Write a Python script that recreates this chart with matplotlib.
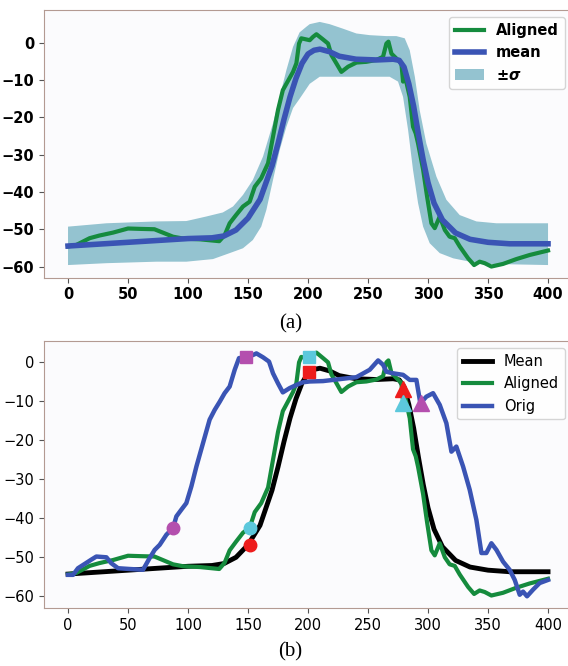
import numpy as np
import matplotlib
matplotlib.use("Agg")
import matplotlib.pyplot as plt

# mean curve (shared by both panels)
mean_x = [0, 50, 100, 120, 130, 140, 150, 160, 170, 175, 180, 185, 190, 195, 200, 205, 210, 218, 226,
          240, 257, 271, 276, 280, 284, 288, 292, 296, 300, 305, 312, 323, 335, 350, 368, 400]
mean_y = [-54.5, -53.5, -52.5, -52.3, -51.8, -50.2, -47, -42, -33, -27, -20.5, -14.5, -9.5, -5.5, -3, -2,
          -1.7, -2.4, -3.6, -4.4, -4.6, -4.4, -4.7, -6.5, -11, -17, -24.5, -31.5, -37.5, -43, -47.5, -51,
          -52.7, -53.5, -53.9, -53.9]

# aligned curve (shared by both panels)
al_x = [0, 7, 12.5, 18, 26, 37.5, 50, 60, 72, 79, 87.5, 96, 110, 126, 130.5, 134.7, 140, 145.8, 151.4,
        155.6, 161, 166.7, 170.8, 175, 179, 183, 187.5, 190.3, 192.5, 194.4, 198.6, 201.4, 204.2, 207,
        212.5, 216.7, 219.5, 223.6, 227.8, 233.4, 240.3, 248.6, 257, 262.5, 265.3, 267, 269.5, 273.6,
        277.8, 279.2, 280.6, 284.75, 287.5, 289.75, 291.7, 295.9, 299.2, 302.8, 305.6, 309.75, 314, 318,
        322.25, 326.4, 333.4, 338.4, 343, 347.25, 352.8, 362.5, 373.6, 384.75, 400]
al_y = [-54.6, -54.2, -53.3, -52.4, -51.7, -50.9, -49.8, -49.9, -50, -50.9, -52, -52.5, -52.7, -53.2,
        -51.6, -48.4, -46.2, -43.9, -42.6, -38.6, -36.3, -32.3, -25.2, -18, -12.7, -10.4, -7.8, -5.5,
        -0.2, 1.2, 0.9, 0.7, 1.6, 2.3, 0.9, -0.2, -3.3, -5.5, -7.8, -6.4, -5.3, -5.1, -4.6, -3.75, -0.2,
        0.3, -2.9, -4.2, -5.5, -10.4, -8.7, -14.5, -22.5, -24.3, -27, -34, -41.2, -48.4, -49.7, -46.6,
        -50.2, -52, -52.4, -54.6, -57.8, -59.6, -58.7, -59.1, -60, -59.3, -58, -56.9, -55.7]

# +/- sigma band edges
up_x = [0, 32, 73.6, 98.6, 115, 129, 137.5, 145.8, 154, 162.5, 170.8, 176.4, 182, 187.5, 193, 198.6,
        201.4, 209.75, 218, 229, 240.3, 251.4, 265.3, 273.6, 280.6, 284.75, 289, 293, 298.6, 307, 315.3,
        326.4, 340.3, 357, 400]
up_y = [-49.3, -48.4, -47.9, -47.8, -46.6, -45.5, -43.9, -40.8, -36.8, -30.5, -21.6, -14.5, -7.3, -1.1,
        2.8, 4.3, 5, 5.6, 5, 3.8, 2.5, 2.05, 1.8, 1.8, 1.2, -2, -9.1, -18, -27, -35.9, -42.1, -46.2,
        -47.9, -48.4, -48.4]
lo_x = [0, 32, 73.6, 98.6, 120.8, 134.7, 145.8, 154, 161, 165.3, 170.8, 176.4, 182, 187.5, 193, 201.4,
        209.75, 240.3, 268, 275, 279.2, 283.4, 287.5, 291.7, 295.9, 301.4, 309.75, 321, 334.75, 351.4, 400]
lo_y = [-59.6, -59.1, -58.7, -58.7, -58, -56.4, -55.1, -52.9, -49.3, -44.8, -36.8, -28.75, -22.5, -17.5,
        -15, -11, -9.1, -9.1, -9.1, -10.4, -14.5, -23.4, -34.1, -43, -49.3, -53.75, -56.4, -57.8, -58.7,
        -59.3, -59.6]

# original curve (bottom panel)
orig_x = [0, 4.2, 8.3, 13.9, 19.4, 23.6, 32, 36, 41.7, 51.4, 62.5, 68, 72.2, 76.4, 82, 87.5, 90.3, 94.4,
          98.6, 102.8, 107, 112.5, 118, 122.2, 126.4, 130.5, 134.7, 138.9, 142.5, 148.6, 154.2, 157, 162.5,
          167.5, 170.8, 175, 179, 184.7, 190.3, 195.8, 201.4, 212.5, 226.4, 240.3, 251.4, 258.4, 262.5,
          265.3, 270.8, 279.2, 284.75, 290.3, 293.6, 298.6, 304.2, 309.75, 315.3, 319.5, 323.6, 329.2,
          334.75, 340.3, 344.5, 348.6, 352.8, 357, 362.5, 368, 372.25, 376.4, 379.2, 382.5, 387.5, 393, 400]
orig_y = [-54.7, -54.7, -53, -51.9, -50.8, -50, -50.2, -51.7, -53, -53.2, -53.4, -50.4, -48.3, -47, -44.4,
          -42.7, -39.7, -38, -36.3, -32, -26.9, -20.9, -14.9, -12.4, -10.3, -8.1, -6.4, -2.1, 0.9, 1.1, 1.7,
          2.1, 1.1, 0, -3, -5.6, -7.9, -6.8, -6, -5.3, -5.1, -5, -4.5, -4, -2.1, 0.3, -0.8, -2.6, -3, -3.4,
          -4.7, -4.7, -10.7, -9, -8.1, -11.1, -15.8, -23.1, -21.8, -26.9, -32.9, -40.6, -49.1, -49.1,
          -46.6, -48.3, -51.3, -53.4, -56, -59.8, -59, -60.2, -58.5, -56.8, -56]

# key points
mk_x = [87.5, 152, 152, 148.5, 200.5, 200.5, 279, 279, 294]
mk_y = [-42.7, -42.7, -47, 1.3, 1.3, -2.7, -7.1, -10.7, -10.7]
mk_c = ['#b44fae', '#5cc8dc', '#ee1c1c', '#b44fae', '#5cc8dc', '#ee1c1c', '#ee1c1c', '#5cc8dc', '#b44fae']
mk_s = ['o', 'o', 'o', 's', 's', 's', '^', '^', '^']

green = '#158b3d'
blue = '#3a54b4'
band = '#94c3d0'
spine = '#b39a92'

fig = plt.figure(figsize=(5.68, 6.66), dpi=100)
ax1 = fig.add_axes([0.0775, 0.583, 0.9296, 0.402])
ax2 = fig.add_axes([0.0775, 0.0871, 0.9296, 0.401])

ax1.fill(up_x + lo_x[::-1], up_y + lo_y[::-1], color=band, lw=0,
         label=r'$\mathbf{\pm}\boldsymbol{\sigma}$', zorder=1)
ax1.plot(al_x, al_y, color=green, lw=3, label='Aligned', zorder=2)
ax1.plot(mean_x, mean_y, color=blue, lw=4, label='mean', zorder=3)
ax1.set_ylim(-63.0, 8.8)
h, l = ax1.get_legend_handles_labels()
ax1.legend([h[1], h[2], h[0]], [l[1], l[2], l[0]], loc='upper right',
           prop={'weight': 'bold', 'size': 10.5})

ax2.plot(mean_x, mean_y, color='black', lw=3.5, label='Mean', zorder=2)
ax2.plot(al_x, al_y, color=green, lw=3, label='Aligned', zorder=3)
ax2.plot(orig_x, orig_y, color=blue, lw=3.2, label='Orig', zorder=4)
for x, y, c, s in zip(mk_x, mk_y, mk_c, mk_s):
    ax2.plot(x, y, marker=s, color=c, ms=11 if s == '^' else 9, ls='none', zorder=5)
ax2.set_ylim(-63.2, 5.3)
ax2.legend(loc='upper right', fontsize=10.5)

for ax in (ax1, ax2):
    ax.set_xlim(-20, 420)
    ax.set_xticks(range(0, 401, 50))
    ax.set_yticks(range(-60, 1, 10))
    ax.set_facecolor('#fbfbfd')
    for s in ax.spines.values():
        s.set_color(spine)
    ax.tick_params(labelsize=10.5, color='#555555')

for t in ax1.get_xticklabels() + ax1.get_yticklabels():
    t.set_fontweight('bold')

fig.text(0.511, 1 - 324 / 666, '(a)', ha='center', va='center', family='Liberation Serif', fontsize=15)
fig.text(0.511, 1 - 652 / 666, '(b)', ha='center', va='center', family='Liberation Serif', fontsize=15)

fig.savefig('out.png', dpi=100)
